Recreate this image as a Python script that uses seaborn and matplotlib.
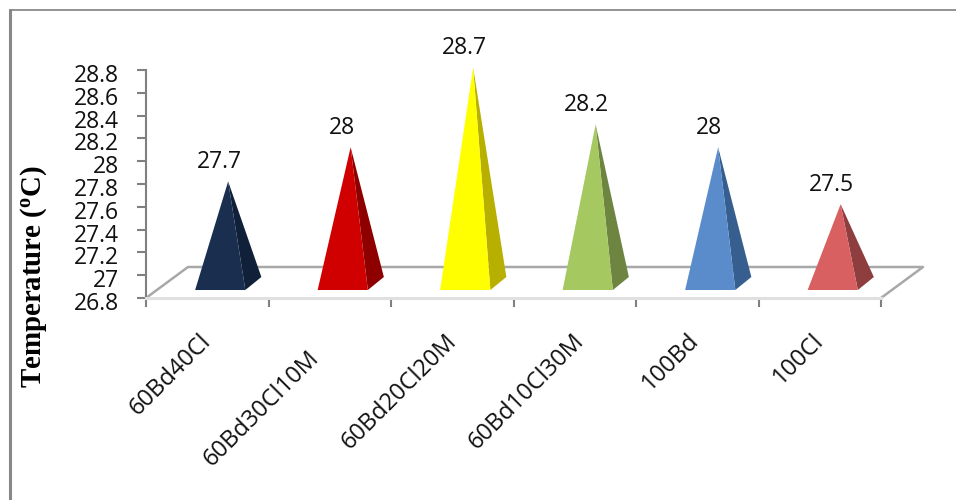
import matplotlib
matplotlib.use('Agg')
import matplotlib.pyplot as plt
import matplotlib.transforms as mtrans
from matplotlib.lines import Line2D
import seaborn as sns

samples = ['60Bd40Cl', '60Bd30Cl10M', '60Bd20Cl20M', '60Bd10Cl30M', '100Bd', '100Cl']
temps = [27.7, 28, 28.7, 28.2, 28, 27.5]
y_ticks = [26.8, 27, 27.2, 27.4, 27.6, 27.8, 28, 28.2, 28.4, 28.6, 28.8]
front_colors = ['#1a2f50', '#d00000', '#ffff00', '#a6c860', '#5a8ccc', '#d96060']
side_colors = ['#0f2038', '#8e0000', '#b8b000', '#6d8540', '#365f90', '#8e3e3e']

sns.set_style('white')
plt.rcParams['font.family'] = ['Open Sans', 'DejaVu Sans']
plt.rcParams['mathtext.fontset'] = 'custom'
plt.rcParams['mathtext.rm'] = 'Liberation Serif:bold'

W, H = 956, 500
fig = plt.figure(figsize=(W / 100, H / 100), dpi=100)
ax = fig.add_axes([146 / W, (H - 298) / H, 735 / W, 228 / H])

sns.barplot(x=samples, y=temps, hue=samples, palette=front_colors, saturation=1, width=0.41, legend=False, ax=ax)
ax.set_ylim(26.8, 28.8)
ax.set_xlim(-0.5, 5.5)

# px to data
px_x = 1 / 122.5
px_y = 1 / 114

# floor of the fake 3d box
floor_dx = 42 * px_x
floor_dy = 31 * px_y
ax.plot([-0.5, -0.5 + floor_dx, 5.5 + floor_dx, 5.5], [26.8, 26.8 + floor_dy, 26.8 + floor_dy, 26.8],
        color='#a8a8a8', lw=1.8, clip_on=False, zorder=1)

# turn each bar into a pyramid
for bar, side in zip(ax.patches, side_colors):
    bar.set_visible(False)
    v = bar.get_height()
    x0 = bar.get_x() + 13 * px_x
    x1 = x0 + bar.get_width()
    x2 = x1 + 16 * px_x
    ax_ = x0 + 33 * px_x
    ay = v + 14 * px_y
    yf = 26.8 + 8 * px_y
    yb = yf + 13 * px_y
    ax.fill([ax_, x1, x2], [ay, yf, yb], color=side, lw=0, clip_on=False, zorder=3)
    ax.fill([ax_, x0, x1], [ay, yf, yf], color=bar.get_facecolor(), lw=0, clip_on=False, zorder=3)
    ax.annotate(f'{v:g}', (ax_, ay), xytext=(-9, 19), textcoords='offset pixels',
                ha='center', va='center', fontsize=16.5, color='#111111', annotation_clip=False)

sns.despine(ax=ax, top=True, right=True)
for s, c, w in [('left', '#808080', 1.5), ('bottom', '#e0e0e0', 2.2)]:
    ax.spines[s].set_color(c)
    ax.spines[s].set_linewidth(w)

ax.set_yticks(y_ticks, [f'{t:g}' for t in y_ticks])
ax.tick_params(axis='y', length=6.5, width=1.5, color='#808080', pad=13, labelsize=16.5, labelcolor='#111111', left=True)
for lab in ax.get_yticklabels():
    lab.set_transform(lab.get_transform() + mtrans.ScaledTranslation(0, -3 / 100, fig.dpi_scale_trans))

ax.set_xticks(range(len(samples)), samples)
ax.set_xticks([i - 0.5 for i in range(len(samples) + 1)], minor=True)
ax.tick_params(axis='x', which='major', length=0, pad=18, labelsize=17, labelcolor='#111111')
ax.tick_params(axis='x', which='minor', length=6.5, width=1.5, color='#808080', bottom=True)

# labels are a bit uneven in the original
shifts = [(-8, -6), (-23, -23), (-8, -6), (-3, -6), (-10, -6), (-8, -6)]
for lab, (dx, dy) in zip(ax.get_xticklabels(), shifts):
    lab.set_rotation(45)
    lab.set_ha('right')
    lab.set_va('top')
    lab.set_rotation_mode('anchor')
    lab.set_transform(lab.get_transform() + mtrans.ScaledTranslation(dx / 100, dy / 100, fig.dpi_scale_trans))

fig.text(34 / W, (H - 277) / H, r'Temperature ($\mathrm{^{o}}$C)', rotation=90, ha='center', va='center',
         fontsize=20.8, family='Liberation Serif', weight='bold', color='black')

# outer frame
fig.add_artist(Line2D([10 / W, 10 / W], [0, (H - 10) / H], color='#888888', lw=2.2))
fig.add_artist(Line2D([10 / W, 1], [(H - 10) / H, (H - 10) / H], color='#808080', lw=1.2))

fig.savefig('out.png', dpi=100)
